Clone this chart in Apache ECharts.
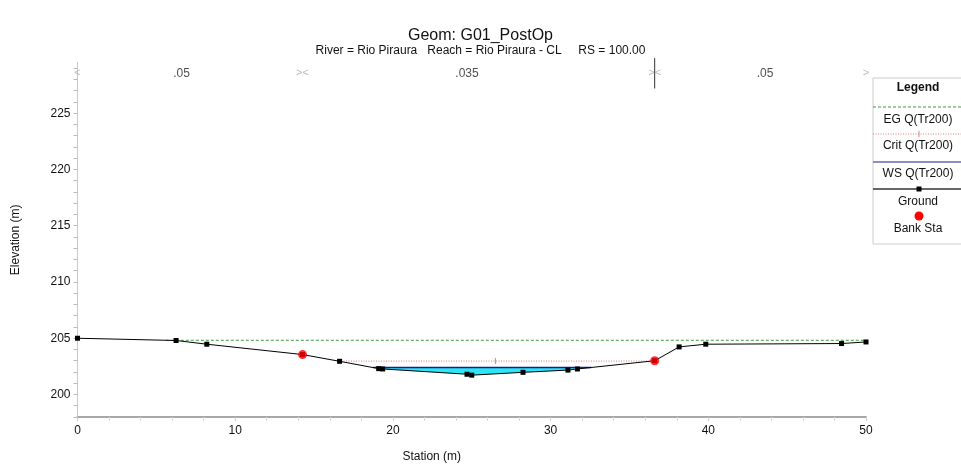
<!DOCTYPE html>
<html><head><meta charset="utf-8">
<script src="https://cdn.jsdelivr.net/npm/echarts@6/dist/echarts.min.js"></script>
<style>html,body{margin:0;padding:0;background:#fff}#c{width:961px;height:468px}</style>
</head><body><div id="c"></div>
<script>
// ---- data ----
const groundSta  = [0, 6.25, 8.2, 14.27, 16.62, 19.1, 19.35, 24.7, 25.0, 28.25, 31.1, 31.7, 36.6, 38.15, 39.84, 48.45, 50.0];
const groundElev = [205.0, 204.8, 204.47, 203.55, 202.95, 202.3, 202.27, 201.8, 201.72, 201.97, 202.17, 202.27, 203.0, 204.23, 204.47, 204.53, 204.67];
const bankSta  = [14.27, 36.6];
const bankElev = [203.55, 203.0];
const egElev = 204.82,  egRange = [5.6, 50];
const critElev = 202.97, critRange = [16.55, 36.45];
const wsElev = 202.4,   wsRange = [18.75, 32.57];
const nValues = ['.05', '.035', '.05'];
const nLabelSta = [6.6, 24.7, 43.6];
const nMarkSta = [0, 14.27, 36.6, 50];
const nMarks = ['<', '><', '><', '>'];
const nRowElev = 228.55;
const yTicksMajor = [200, 205, 210, 215, 220, 225];

const FONT = '"Liberation Sans", Arial, sans-serif';
const ground = groundSta.map((s, i) => [s, groundElev[i]]);
const banks = bankSta.map((s, i) => [s, bankElev[i]]);
const waterPoly = [[wsRange[0], wsElev]]
  .concat(ground.filter(p => p[0] > wsRange[0] && p[0] < wsRange[1]))
  .concat([[wsRange[1], wsElev]]);

const chart = echarts.init(document.getElementById('c'), null, {renderer: 'canvas'});
const legendX = 873, legendW = 100, cx = 918;
function ltext(t, y, bold) {
  return {type: 'text', x: cx, y: y, style: {text: t, fill: '#111', font: (bold ? 'bold ' : '') + '12px ' + FONT, textAlign: 'center', textVerticalAlign: 'middle'}};
}
function lline(y, color, dash, w) {
  return {type: 'line', shape: {x1: legendX, y1: y, x2: legendX + legendW, y2: y}, style: {stroke: color, lineWidth: w || 1, lineDash: dash || null}};
}
chart.setOption({
  animation: false,
  backgroundColor: '#fff',
  title: {
    text: 'Geom: G01_PostOp', left: 'center', top: 23, itemGap: 1,
    textStyle: {fontSize: 16, fontWeight: 'normal', color: '#111', fontFamily: FONT},
    subtext: 'River = Rio Piraura   Reach = Rio Piraura - CL     RS = 100.00',
    subtextStyle: {fontSize: 12, color: '#111', fontFamily: FONT}
  },
  grid: {left: 77.5, right: 95, top: 62.6, bottom: 51, containLabel: false},
  xAxis: {
    type: 'value', min: 0, max: 50, interval: 10,
    name: 'Station (m)', nameLocation: 'middle', nameGap: 34,
    nameTextStyle: {fontSize: 12, color: '#111', fontFamily: FONT, padding: [0, 80, 0, 0]},
    axisLine: {show: true, onZero: false, lineStyle: {color: '#a8a8a8', width: 2}},
    axisTick: {show: true, length: 4, lineStyle: {color: '#ccc'}},
    minorTick: {show: true, splitNumber: 5, length: 4, lineStyle: {color: '#d8d8d8'}},
    axisLabel: {fontSize: 12, color: '#111', fontFamily: FONT, margin: 8},
    splitLine: {show: false}
  },
  yAxis: {
    type: 'value', min: 198, max: 229.5, interval: 1,
    name: 'Elevation (m)', nameLocation: 'middle', nameGap: 56, nameRotate: 90,
    nameTextStyle: {fontSize: 12, color: '#111', fontFamily: FONT},
    axisLine: {show: true, onZero: false, lineStyle: {color: '#c8c8c8', width: 1}},
    axisTick: {show: true, length: 4, lineStyle: {color: '#bbb'}},
    axisLabel: {fontSize: 12, color: '#111', fontFamily: FONT, margin: 7,
      formatter: v => yTicksMajor.indexOf(v) >= 0 ? String(v) : '', showMaxLabel: false},
    splitLine: {show: false}
  },
  series: [
    {
      type: 'custom', name: 'water', z: 1, silent: true,
      data: [0],
      renderItem: function (params, api) {
        return {type: 'polygon', shape: {points: waterPoly.map(p => api.coord(p))},
          style: {fill: '#2ee6f2', stroke: null}};
      }
    },
    {type: 'line', name: 'EG', z: 2, data: egRange.map(s => [s, egElev]), symbol: 'none',
      lineStyle: {color: '#3c9a3c', width: 1, type: [3, 2]}},
    {type: 'line', name: 'Crit', z: 2, data: [[critRange[0], critElev], [(critRange[0] + critRange[1]) / 2, critElev], [critRange[1], critElev]],
      symbol: 'rect', symbolSize: (v, p) => p.dataIndex === 1 ? [1, 6] : 0, showAllSymbol: true,
      itemStyle: {color: '#e08080'},
      lineStyle: {color: '#e07878', width: 1, type: [1, 1.5]}},
    {type: 'line', name: 'WS', z: 3, data: wsRange.map(s => [s, wsElev]), symbol: 'none',
      lineStyle: {color: '#1a1aa0', width: 1.5}},
    {type: 'line', name: 'Ground', z: 4, data: ground, symbol: 'rect', symbolSize: 5, showAllSymbol: true,
      itemStyle: {color: '#000'}, lineStyle: {color: '#000', width: 1}},
    {type: 'scatter', name: 'Bank Sta', z: 5, data: banks, symbol: 'circle', symbolSize: 9,
      itemStyle: {color: '#ff0000'}},
    {type: 'scatter', name: 'n', z: 5, data: nLabelSta.map((s, i) => ({value: [s, nRowElev], label: {formatter: nValues[i]}})),
      symbolSize: 0, label: {show: true, position: 'inside', fontSize: 12, color: '#222', fontFamily: FONT}},
    {type: 'scatter', name: 'nmarks', z: 5, data: nMarkSta.map((s, i) => ({value: [s, nRowElev], label: {formatter: nMarks[i]}})),
      symbolSize: 0, label: {show: true, position: 'inside', fontSize: 11, color: '#aaa', fontFamily: FONT}},
    {type: 'line', name: 'levee', z: 5, clip: false, data: [[bankSta[1], 227.2], [bankSta[1], 229.9]], symbol: 'none',
      lineStyle: {color: '#333', width: 1}}
  ],
  graphic: [
    {type: 'rect', shape: {x: legendX, y: 78, width: legendW, height: 166}, style: {fill: '#fff', stroke: '#ccc', lineWidth: 1}},
    ltext('Legend', 88, true),
    lline(107, '#3c9a3c', [3, 2]),
    ltext('EG Q(Tr200)', 120),
    lline(134, '#e07878', [1, 1.5]),
    {type: 'line', shape: {x1: 919, y1: 131, x2: 919, y2: 137}, style: {stroke: '#e08080', lineWidth: 1}},
    ltext('Crit Q(Tr200)', 146),
    lline(162, '#6868b0', null, 1.5),
    ltext('WS Q(Tr200)', 174),
    lline(189, '#333', null, 1.5),
    {type: 'rect', shape: {x: 916.5, y: 186.5, width: 5, height: 5}, style: {fill: '#000'}},
    ltext('Ground', 202),
    {type: 'circle', shape: {cx: 919, cy: 216, r: 4.5}, style: {fill: '#ff0000'}},
    ltext('Bank Sta', 229)
  ]
});
</script></body></html>
